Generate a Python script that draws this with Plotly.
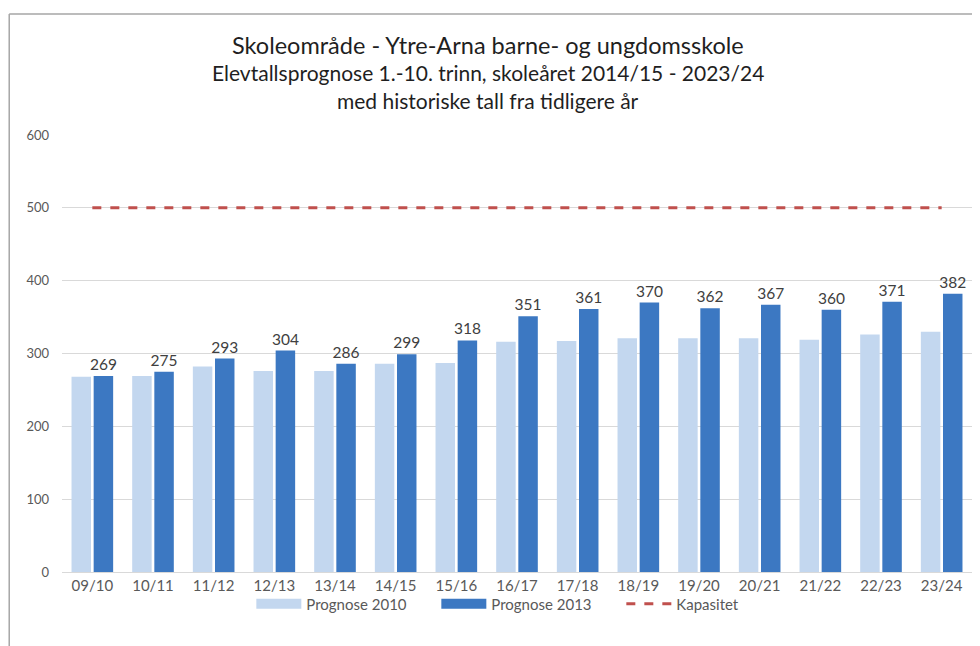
import plotly.graph_objects as go

years = ["09/10", "10/11", "11/12", "12/13", "13/14", "14/15", "15/16", "16/17",
         "17/18", "18/19", "19/20", "20/21", "21/22", "22/23", "23/24"]
prognose_2010 = [268, 269, 282, 276, 276, 286, 287, 316, 317, 321, 321, 321, 319, 326, 330]
prognose_2013 = [269, 275, 293, 304, 286, 299, 318, 351, 361, 370, 362, 367, 360, 371, 382]
kapasitet = [500] * len(years)

title_lines = [
    "Skoleområde - Ytre-Arna barne- og ungdomsskole",
    "Elevtallsprognose 1.-10. trinn, skoleåret 2014/15 - 2023/24",
    "med historiske tall fra tidligere år",
]

FONT = "Lato, 'Open Sans', sans-serif"
LIGHT = "#C3D7EF"
DARK = "#3C78C2"

# page body has an 8px margin, so the figure is a little smaller than the window
fig = go.Figure()
fig.add_trace(go.Bar(
    x=years, y=prognose_2010, name="Prognose 2010", showlegend=False,
    marker=dict(color=LIGHT, line=dict(width=0)),
))
fig.add_trace(go.Bar(
    x=years, y=prognose_2013, name="Prognose 2013", showlegend=False,
    marker=dict(color=DARK, line=dict(width=0)),
    text=prognose_2013, textposition="outside", constraintext="none",
    textfont=dict(size=15.5, color="#404040", family=FONT),
    cliponaxis=False,
))
fig.add_trace(go.Scatter(
    x=years, y=kapasitet, name="Kapasitet", mode="lines", legendrank=3,
    line=dict(color="#C0504D", width=3, dash="dash"),
))
# wide rectangular legend swatches like the original
for name, color, rank in [("Prognose 2010", LIGHT, 1), ("Prognose 2013", DARK, 2)]:
    fig.add_trace(go.Scatter(
        x=[None], y=[None], name=name, mode="lines", legendrank=rank,
        line=dict(color=color, width=10),
    ))

title_y = [1.206, 1.142, 1.080]
title_size = [23.5, 21, 21]
annotations = [
    dict(text=t, x=0.468, y=y, xref="paper", yref="paper", xanchor="center",
         yanchor="middle", showarrow=False,
         font=dict(size=s, color="#1F1F1F", family=FONT))
    for t, y, s in zip(title_lines, title_y, title_size)
]

fig.update_layout(
    width=972, height=638,
    margin=dict(l=54, r=8, t=127, b=74),
    paper_bgcolor="white", plot_bgcolor="white",
    font=dict(family=FONT, color="#595959", size=13),
    barmode="group", bargap=0.27, bargroupgap=0.12,
    showlegend=True,
    legend=dict(orientation="h", x=0.513, xanchor="center", y=-0.073, yanchor="middle",
                font=dict(size=15, color="#595959"), itemwidth=45,
                entrywidth=125, bgcolor="rgba(0,0,0,0)"),
    annotations=annotations,
    shapes=[
        dict(type="line", xref="paper", yref="paper", x0=-0.058, x1=1.01, y0=1.277, y1=1.277,
             line=dict(color="#A6A6A6", width=1.5)),
        dict(type="line", xref="paper", yref="paper", x0=-0.058, x1=-0.058, y0=1.277, y1=-0.17,
             line=dict(color="#A6A6A6", width=1.5)),
    ],
)
fig.update_xaxes(showgrid=False, showline=True, linecolor="#D9D9D9", linewidth=1,
                 ticks="", tickfont=dict(size=15, color="#595959"))
fig.update_yaxes(range=[0, 600], dtick=100, showgrid=True, gridcolor="#D9D9D9",
                 zeroline=False, ticks="", tickfont=dict(size=13, color="#595959"),
                 ticklabelstandoff=12)

fig.write_html("out.html")
